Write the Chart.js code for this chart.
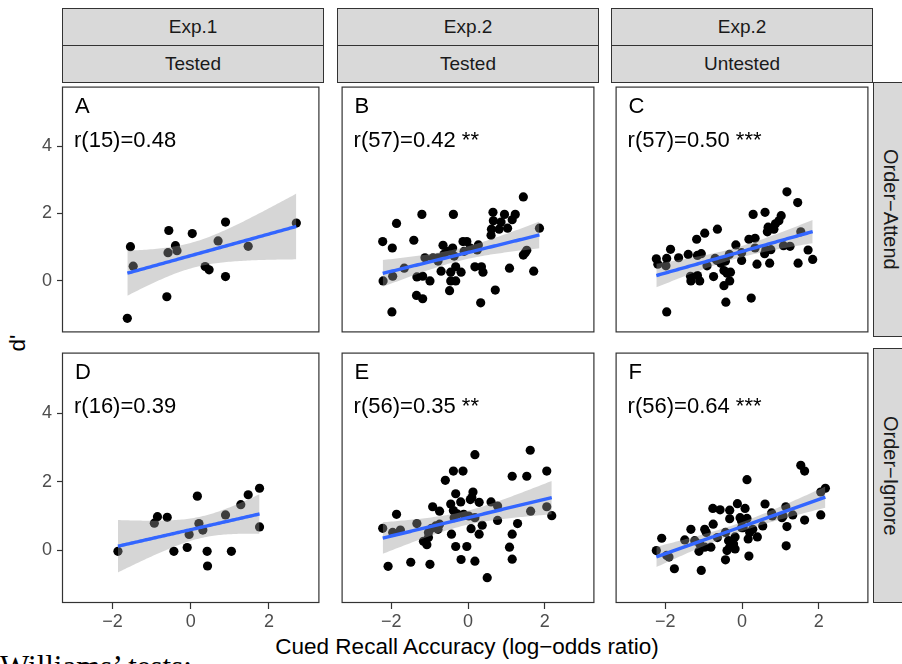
<!DOCTYPE html>
<html lang="en">
<head>
<meta charset="UTF-8">
<title>d' vs cued recall accuracy</title>
<script src="https://cdn.jsdelivr.net/npm/chart.js"></script>
<style>
  body { margin: 0; width: 902px; height: 664px; overflow: hidden; background: #fff; position: relative;
         font-family: "Liberation Sans", Arial, sans-serif; }
  canvas { position: absolute; }
  .strip { position: absolute; box-sizing: border-box; background: #d9d9d9; border: 1px solid #333;
           color: #1a1a1a; font-size: 19px; display: flex; align-items: center; justify-content: center; }
  .vstrip { writing-mode: vertical-rl; font-size: 20px; }
  .title { position: absolute; color: #000; font-size: 22.5px; white-space: nowrap; }
</style>
</head>
<body>
<div class="title" style="left:0;width:934px;top:636px;line-height:22px;text-align:center;">Cued Recall Accuracy (log&minus;odds ratio)</div>
<div class="title" style="left:-2px;top:331px;width:40px;height:24px;line-height:24px;text-align:center;transform:rotate(-90deg);">d'</div>
<div class="title" style="left:0;top:652px;line-height:30px;font-family:'Liberation Serif','DejaVu Serif',serif;font-size:31px;">Williams’ tests:</div>
<script>
// strips and ticks
const stripTop = ['Exp.1', 'Exp.2', 'Exp.2'];
const stripBottom = ['Tested', 'Tested', 'Untested'];
const stripRight = ['Order\u2212Attend', 'Order\u2212Ignore'];
const xTicks = [-2, 0, 2];
const yTicks = [0, 2, 4];

// panel annotations
const tags = ['A', 'B', 'C', 'D', 'E', 'F'];
const stats = ['r(15)=0.48', 'r(57)=0.42 **', 'r(57)=0.50 ***', 'r(16)=0.39', 'r(56)=0.35 **', 'r(56)=0.64 ***'];

// A: Exp.1 tested, order-attend
const aX = [-1.62,-1.54,-1.47,-0.61,-0.56,-0.58,-0.39,-0.35,0.04,0.37,0.47,0.70,0.89,0.89,1.47,2.70];
const aY = [-1.12,1.01,0.43,-0.48,1.49,0.83,1.04,0.89,1.40,0.42,0.32,1.18,1.74,0.12,1.02,1.71];
// B: Exp.2 tested, order-attend
const bX = [1.44,-1.20,-0.38,-1.86,0.65,0.95,1.23,1.15,0.66,0.86,0.61,0.81,1.03,0.60,1.86,-2.22,-1.41,-1.97,-0.65,-0.40,
            -0.13,-0.03,0.27,0.24,-1.12,-0.91,-0.63,-0.78,-0.36,-1.66,-2.21,-1.96,-1.33,-1.18,-0.99,-0.70,-0.45,-0.32,-0.18,-0.45,
            -0.32,-0.48,0.18,0.35,0.39,1.08,1.71,1.44,1.53,0.71,-1.34,-1.18,0.33,-1.98,-0.10,0.06,-0.53,1.49,-0.78];
const bY = [2.49,1.97,1.97,1.70,2.03,1.97,1.97,1.81,1.78,1.74,1.53,1.53,1.56,1.35,1.56,1.16,1.20,0.97,1.05,0.97,
            1.16,1.16,1.06,0.91,0.68,0.68,0.78,0.58,0.73,0.37,-0.01,0.13,0.11,0.13,-0.01,0.28,0.25,0.41,0.25,-0.01,
            -0.01,-0.30,0.41,0.41,0.25,0.37,0.28,0.76,0.90,-0.28,-0.44,-0.54,-0.66,-0.93,0.87,0.97,0.87,0.83,0.68];
// C: Exp.2 untested, order-attend
const cX = [1.17,1.45,0.29,0.60,1.02,0.96,0.87,0.68,0.83,0.66,-0.64,-0.97,-1.18,0.18,0.34,1.53,-1.86,-2.23,-1.96,-1.65,
            -1.40,-1.16,-1.06,-2.19,-1.98,-0.16,-0.33,-0.01,0.34,0.62,0.75,0.59,1.08,1.25,1.72,1.84,1.46,0.72,0.39,-0.01,
            -0.65,-0.55,-0.43,-0.91,-0.47,-0.30,-0.39,-1.34,-1.16,-1.33,-1.10,-0.74,-0.32,-0.47,0.24,-0.42,-1.96,-0.70];
const cY = [2.64,2.32,1.97,2.03,1.93,1.78,1.69,1.59,1.53,1.45,1.53,1.41,1.23,1.23,1.26,1.45,0.93,0.65,0.66,0.68,
            0.78,0.75,0.80,0.49,0.44,1.06,0.78,0.83,0.97,0.92,0.92,0.80,1.04,1.02,0.91,0.63,0.52,0.52,0.49,0.60,
            0.60,0.52,0.58,0.44,0.30,0.25,0.22,0.13,0.15,-0.01,-0.01,0.12,-0.01,-0.15,-0.52,-0.64,-0.93,0.66];
// D: Exp.1 tested, order-ignore
const dX = [-1.86,-0.93,-0.85,-0.60,-0.43,-0.09,-0.04,0.17,0.21,0.31,0.42,0.43,0.89,1.04,1.28,1.47,1.76,1.76];
const dY = [-0.03,0.79,0.98,0.96,-0.03,0.08,0.46,1.58,0.78,0.59,-0.03,-0.46,1.03,-0.03,1.33,1.62,1.81,0.68];
// E: Exp.2 tested, order-ignore
const eX = [1.62,0.18,-0.38,-0.13,-0.59,1.15,1.53,2.05,-0.32,0.13,-0.45,-0.19,0.06,0.29,0.60,0.77,-0.92,-0.74,-0.38,-1.86,
            -1.33,-0.11,0.02,0.18,-0.36,-2.22,-1.96,-1.76,0.77,1.29,1.63,2.05,2.18,-1.03,-0.95,-0.78,-1.16,-1.07,-0.43,0.08,
            0.37,0.29,1.15,-0.32,-0.03,1.08,-2.08,-1.49,-0.99,-0.18,0.18,1.15,0.50,-0.84,-0.74,0.10,-1.03,-0.28];
const eY = [2.92,2.79,2.31,2.31,2.04,2.16,2.16,2.31,1.65,1.70,1.35,1.41,1.48,1.40,1.41,1.29,1.27,1.14,1.16,1.05,
            0.78,1.05,1.00,0.95,0.95,0.64,0.52,0.59,0.87,0.78,1.14,1.27,1.01,0.52,0.64,0.61,0.26,0.16,0.47,0.63,
            0.73,0.47,0.47,0.11,0.11,0.09,-0.47,-0.35,-0.41,-0.27,-0.32,-0.26,-0.80,0.71,0.76,1.54,0.37,1.06];
// F: Exp.2 untested, order-ignore
const fX = [1.53,1.63,0.13,2.17,2.05,0.60,-0.12,-0.76,-0.57,-0.32,0.08,1.14,0.77,-0.32,-0.05,0.13,-0.75,-1.33,-0.97,-2.09,
            -1.49,-0.93,-0.43,-0.01,0.54,1.17,1.32,1.63,2.05,1.07,-2.23,-1.96,-1.12,-0.81,-0.35,-0.18,0.16,0.40,0.20,-0.39,
            -0.18,-1.10,1.15,0.18,-0.43,-1.76,-1.06,0.03,0.28,-0.22,-1.23,-0.97,0.79,1.04,-0.64,-0.01,-1.90,-0.32];
const fY = [2.48,2.31,2.06,1.81,1.70,1.35,1.36,1.22,1.18,1.17,1.22,1.27,1.09,0.92,0.95,0.93,0.76,0.61,0.61,0.35,
            0.30,0.52,0.52,0.66,0.71,0.69,1.03,0.88,1.03,1.00,-0.01,-0.15,-0.03,0.09,0.28,0.39,0.33,0.39,0.52,-0.01,
            0.04,0.18,0.13,-0.17,-0.28,-0.54,-0.59,0.66,0.61,0.18,0.28,0.09,1.00,0.95,0.37,0.85,-0.20,0.09];

const seriesX = [aX, bX, cX, dX, eX, fX];
const seriesY = [aY, bY, cY, dY, eY, fY];

// layout of the facet grid (pixels)
const colLeft = [62, 337, 611], rowTop = [82, 348];
const panelW = 261, panelH = 254, yAxisW = 62, xAxisH = 40;

// strips
function addDiv(cls, text, l, t, w, h) {
  const d = document.createElement('div');
  d.className = cls; d.textContent = text;
  Object.assign(d.style, { left: l + 'px', top: t + 'px', width: w + 'px', height: h + 'px' });
  document.body.appendChild(d);
}
stripTop.forEach((s, c) => addDiv('strip', s, colLeft[c], 8, panelW + 1, 38));
stripBottom.forEach((s, c) => addDiv('strip', s, colLeft[c], 45, panelW + 1, 38));
stripRight.forEach((s, r) => addDiv('strip vstrip', s, 873, rowTop[r], 34, panelH + 1));

// linear fit with 95% band, like geom_smooth(method = "lm")
function tq(df) { return 1.96 + 2.4 / df + 2.9 / (df * df); }
function smooth(xs, ys) {
  const n = xs.length;
  const mx = xs.reduce((a, b) => a + b, 0) / n;
  const my = ys.reduce((a, b) => a + b, 0) / n;
  let sxx = 0, sxy = 0, sse = 0;
  xs.forEach((x, i) => { sxx += (x - mx) ** 2; sxy += (x - mx) * (ys[i] - my); });
  const b = sxy / sxx, a = my - b * mx;
  xs.forEach((x, i) => { sse += (ys[i] - a - b * x) ** 2; });
  const s = Math.sqrt(sse / (n - 2)), t = tq(n - 2);
  const lo = Math.min(...xs), hi = Math.max(...xs);
  const fit = [], upper = [], lower = [];
  for (let k = 0; k <= 80; k++) {
    const x = lo + (hi - lo) * k / 80;
    const yh = a + b * x, se = s * Math.sqrt(1 / n + (x - mx) ** 2 / sxx);
    fit.push({ x, y: yh }); upper.push({ x, y: yh + t * se }); lower.push({ x, y: yh - t * se });
  }
  return { fit, upper, lower };
}

const minus = v => (v < 0 ? '\u2212' + Math.abs(v) : String(v));

// border and corner texts of each facet
const panelDeco = {
  id: 'panelDeco',
  afterDraw(chart) {
    const { ctx, chartArea: a } = chart;
    const i = chart.options.plugins.panelDeco.index;
    ctx.save();
    ctx.strokeStyle = '#333';
    ctx.lineWidth = 1.2;
    ctx.strokeRect(a.left + 0.5, a.top + 0.5, a.right - a.left - 1, a.bottom - a.top - 1);
    ctx.fillStyle = '#000';
    ctx.font = '22px "Liberation Sans", Arial, sans-serif';
    ctx.textBaseline = 'alphabetic';
    ctx.fillText(tags[i], a.left + 13, a.top + 26);
    ctx.fillText(stats[i], a.left + 12, a.top + 60);
    ctx.restore();
  }
};

const fixX = s => { s.height = xAxisH; s.paddingLeft = 0; s.paddingRight = 0; };
const fixY = s => { s.width = yAxisW; s.paddingTop = 0; s.paddingBottom = 0; };

for (let i = 0; i < 6; i++) {
  const r = Math.floor(i / 3), c = i % 3;
  const showY = c === 0, showX = r === 1;
  const cv = document.createElement('canvas');
  const w = panelW + 1 + (showY ? yAxisW : 0);
  const h = panelH + 1 + (showX ? xAxisH : 0);
  cv.width = w; cv.height = h;
  cv.style.left = (showY ? 0 : colLeft[c]) + 'px';
  cv.style.top = rowTop[r] + 'px';
  cv.style.width = w + 'px'; cv.style.height = h + 'px';
  document.body.appendChild(cv);

  const pts = seriesX[i].map((x, k) => ({ x, y: seriesY[i][k] }));
  const sm = smooth(seriesX[i], seriesY[i]);

  const tickFont = { family: '"Liberation Sans", Arial, sans-serif', size: 18 };
  new Chart(cv, {
    type: 'line',
    data: {
      datasets: [
        { data: sm.fit, borderColor: '#3366FF', borderWidth: 3.4, pointRadius: 0, fill: false, order: 1 },
        { data: sm.upper, borderColor: 'rgba(0,0,0,0)', borderWidth: 1, pointRadius: 0,
          fill: '+1', backgroundColor: 'rgba(153,153,153,0.4)', order: 2 },
        { data: sm.lower, borderColor: 'rgba(0,0,0,0)', borderWidth: 1, pointRadius: 0, fill: false, order: 3 },
        { data: pts, showLine: false, pointRadius: 4.6, pointBackgroundColor: '#000',
          pointBorderWidth: 0, order: 4 }
      ]
    },
    options: {
      responsive: false, animation: false, events: [],
      layout: { padding: 0 },
      plugins: { legend: { display: false }, tooltip: { enabled: false }, panelDeco: { index: i } },
      scales: {
        x: {
          type: 'linear', min: -3.29, max: 3.29, display: showX,
          afterBuildTicks: s => { s.ticks = xTicks.map(v => ({ value: v })); },
          afterFit: showX ? fixX : undefined,
          grid: { drawOnChartArea: false, drawTicks: true, tickLength: 6, tickColor: '#333', tickWidth: 1.2 },
          border: { display: false },
          ticks: { font: tickFont, color: '#4d4d4d', padding: 2, maxRotation: 0, autoSkip: false,
                   callback: v => minus(v) }
        },
        y: {
          type: 'linear', min: -1.54, max: 5.77, display: showY,
          afterBuildTicks: s => { s.ticks = yTicks.map(v => ({ value: v })); },
          afterFit: showY ? fixY : undefined,
          grid: { drawOnChartArea: false, drawTicks: true, tickLength: 5, tickColor: '#333', tickWidth: 1.2 },
          border: { display: false },
          ticks: { font: tickFont, color: '#4d4d4d', padding: 5, callback: v => minus(v) }
        }
      }
    },
    plugins: [panelDeco]
  });
}
</script>
</body>
</html>
